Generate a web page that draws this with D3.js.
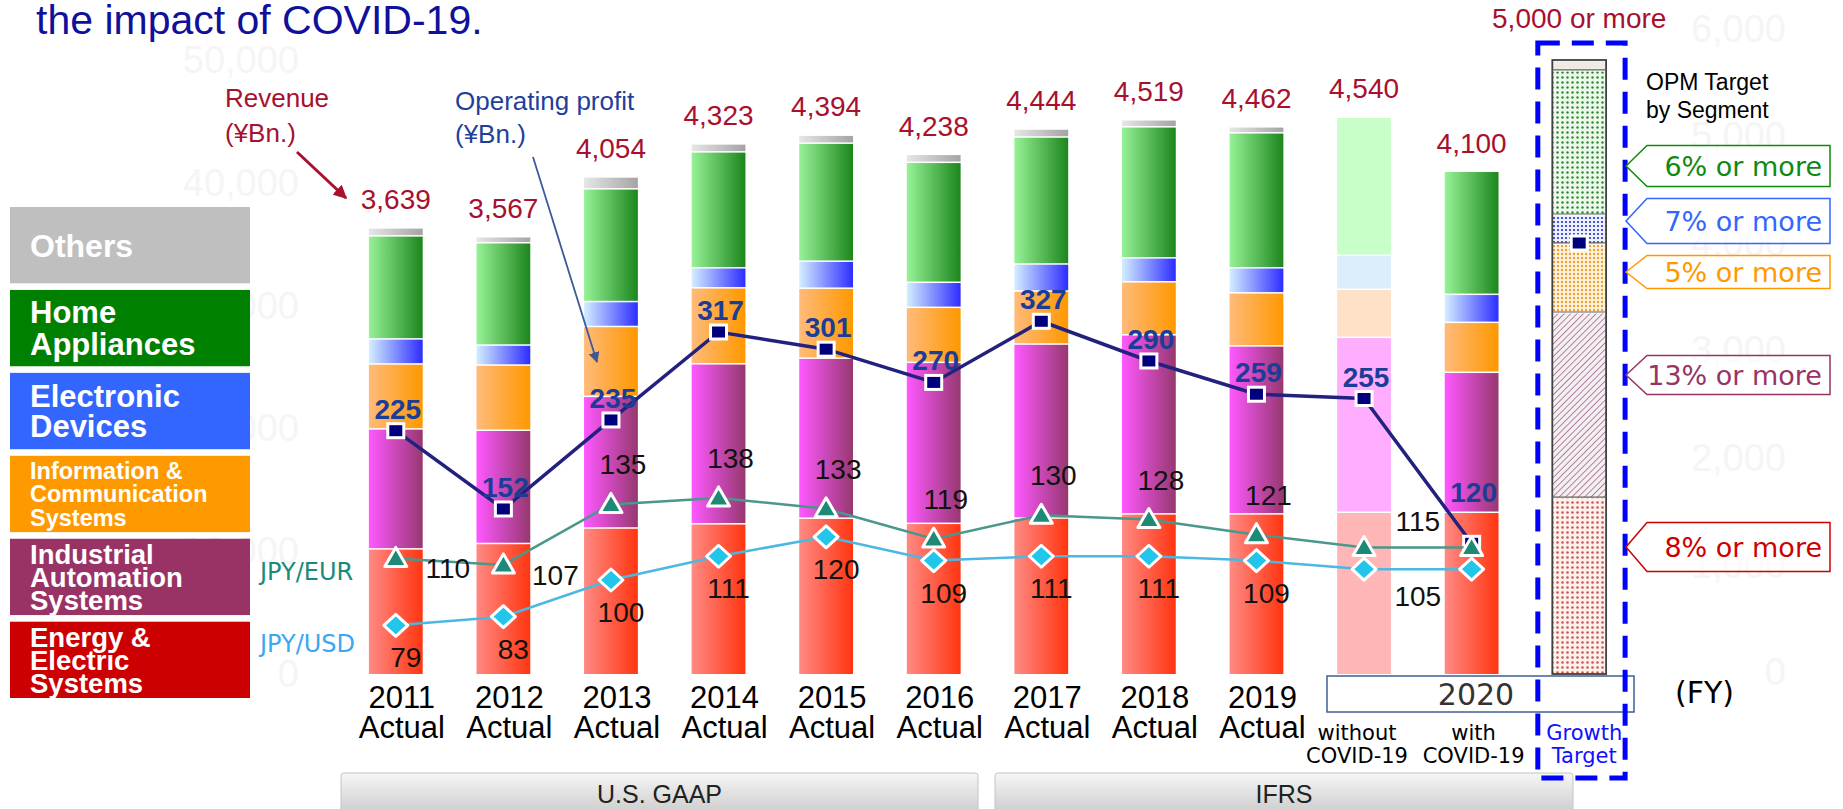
<!DOCTYPE html>
<html>
<head>
<meta charset="utf-8">
<script src="https://cdn.jsdelivr.net/npm/d3@7"></script>
<style>
body { margin: 0; background: #fff; }
svg { display: block; }
</style>
</head>
<body>
<script>
// fiscal years (2020 split in two, plus the growth target column)
var categories = ["2011", "2012", "2013", "2014", "2015", "2016", "2017", "2018", "2019", "2020a", "2020b", "Growth"];
var yearLabels = ["2011", "2012", "2013", "2014", "2015", "2016", "2017", "2018", "2019"];

// revenue by segment (¥Bn.)
var energy     = [1025, 1069, 1195, 1229, 1275, 1233, 1276, 1310, 1310, 1323, 1323, 1441];
var industrial = [977, 922, 1072, 1303, 1303, 1311, 1417, 1458, 1368, 1425, 1140, 1507];
var infoComm   = [529, 531, 569, 619, 570, 448, 432, 432, 432, 391, 407, 562];
var devices    = [204, 163, 203, 163, 220, 204, 220, 195, 204, 277, 228, 236];
var appliances = [839, 833, 918, 944, 961, 977, 1034, 1067, 1099, 1124, 1002, 1173];
var others     = [65, 49, 97, 65, 65, 65, 65, 57, 49, 0, 0, 81];
var revenue    = [3639, 3567, 4054, 4323, 4394, 4238, 4444, 4519, 4462, 4540, 4100, 5000];

// operating profit (¥Bn.) and exchange rates
var opProfit = [225, 152, 235, 317, 301, 270, 327, 290, 259, 255, 120];
var opTarget = 400;
var jpyEur = [110, 107, 135, 138, 133, 119, 130, 128, 121, 115, 115];
var jpyUsd = [79, 83, 100, 111, 120, 109, 111, 111, 109, 105, 105];

// segment legend and OPM targets
var segmentNames = [["Others"], ["Home", "Appliances"], ["Electronic", "Devices"],
  ["Information &", "Communication", "Systems"], ["Industrial", "Automation", "Systems"],
  ["Energy &", "Electric", "Systems"]];
var opmTargets = ["6% or more", "7% or more", "5% or more", "13% or more", "8% or more"];
var ghostLeft = [0, 10000, 20000, 30000, 40000, 50000];
var ghostRight = [0, 1000, 2000, 3000, 4000, 5000, 6000];

var width = 1843, height = 809;
var sans = "Arial, 'Liberation Sans', sans-serif";
var dejavu = "'DejaVu Sans', Verdana, sans-serif";

var svg = d3.select("body").append("svg").attr("width", width).attr("height", height);
var defs = svg.append("defs");

var x = d3.scaleBand().domain(categories).range([342, 1633]).paddingInner(0.5).paddingOuter(0.25);
var y = d3.scaleLinear().domain([0, 5000]).range([674, 60]);
var yOp = d3.scaleLinear().domain([0, 400]).range([672, 243]);
var yFx = d3.scaleLinear().domain([0, 150]).range([796, 472]);
var bw = x.bandwidth();
function cx(i) { return x(categories[i]) + bw / 2; }

var keys = ["energy", "industrial", "info", "devices", "home", "others"];
var gradStops = {
  energy: ["#ff8a84", "#ff3510"],
  industrial: ["#ff58ff", "#963870"],
  info: ["#ffbb7a", "#ff9800"],
  devices: ["#d4eeff", "#2d2dff"],
  home: ["#97f297", "#1c861c"],
  others: ["#e6e6e6", "#a4a4a4"]
};
var faded = { energy: "#ffb6b6", industrial: "#ffaeff", info: "#ffe1c8", devices: "#dcedfb", home: "#c8ffc8", others: "#eeeeee" };
var legendColors = ["#bfbfbf", "#008000", "#3366ff", "#ff9900", "#993366", "#cc0000"];
var calloutColors = ["#0f8a0f", "#3366ff", "#ff9900", "#993366", "#cc0000"];

keys.forEach(function(k) {
  var g = defs.append("linearGradient").attr("id", "g-" + k).attr("x1", 0).attr("x2", 1).attr("y1", 0).attr("y2", 0);
  g.append("stop").attr("offset", 0).attr("stop-color", gradStops[k][0]);
  g.append("stop").attr("offset", 1).attr("stop-color", gradStops[k][1]);
});
var gaap = defs.append("linearGradient").attr("id", "gaap").attr("x1", 0).attr("x2", 0).attr("y1", 0).attr("y2", 1);
gaap.append("stop").attr("offset", 0).attr("stop-color", "#f6f6f6");
gaap.append("stop").attr("offset", 1).attr("stop-color", "#cdcdcd");

// patterns for the growth target column
function dots(id, bg, c, s, r) {
  var p = defs.append("pattern").attr("id", id).attr("patternUnits", "userSpaceOnUse").attr("width", s).attr("height", s);
  p.append("rect").attr("width", s).attr("height", s).attr("fill", bg);
  p.append("circle").attr("cx", s / 2).attr("cy", s / 2).attr("r", r).attr("fill", c);
}
dots("p-energy", "#fff0ec", "#c85a55", 5, 1.3);
dots("p-info", "#fff4dc", "#eea038", 4, 1.2);
dots("p-devices", "#eef0ff", "#2233cc", 4, 1.1);
dots("p-home", "#edf8ed", "#2f8a2f", 5, 1.2);
dots("p-others", "#efece6", "#dedad2", 4, 0.6);
var hatch = defs.append("pattern").attr("id", "p-industrial").attr("patternUnits", "userSpaceOnUse")
  .attr("width", 4.5).attr("height", 4.5).attr("patternTransform", "rotate(45)");
hatch.append("rect").attr("width", 4.5).attr("height", 4.5).attr("fill", "#f5eef3");
hatch.append("line").attr("x1", 0).attr("y1", 0).attr("x2", 0).attr("y2", 4.5).attr("stroke", "#7e4466").attr("stroke-width", 1.2);

["redArrow", "blueArrow"].forEach(function(id, i) {
  defs.append("marker").attr("id", id).attr("viewBox", "0 0 10 10").attr("refX", 9).attr("refY", 5)
    .attr("markerWidth", i ? 6 : 4.5).attr("markerHeight", i ? 6 : 4.5).attr("orient", "auto")
    .append("path").attr("d", "M0,0 L10,5 L0,10 z").attr("fill", i ? "#3c5a9a" : "#a8102e");
});

// faint ghost axes left behind on the slide
svg.append("g").selectAll("text").data(ghostLeft).enter().append("text")
  .attr("x", 299).attr("y", function(d) { return y(d / 10) + 13; }).attr("text-anchor", "end")
  .attr("font-family", sans).attr("font-size", 38).attr("fill", "#f5f5f5").text(d3.format(","));
svg.append("g").selectAll("text").data(ghostRight).enter().append("text")
  .attr("x", 1786).attr("y", function(d) { return yOp(d / 10) + 13; }).attr("text-anchor", "end")
  .attr("font-family", sans).attr("font-size", 38).attr("fill", "#f5f5f5").text(d3.format(","));

// title (cut off at top of slide)
svg.append("text").attr("x", 36).attr("y", 34).attr("font-family", sans).attr("font-size", 41)
  .attr("fill", "#10109a").text("the impact of COVID-19.");

// stacked bars
var rows = categories.map(function(c, i) {
  return { cat: c, energy: energy[i], industrial: industrial[i], info: infoComm[i], devices: devices[i], home: appliances[i], others: others[i] };
});
var stacked = d3.stack().keys(keys)(rows);
var gap = 1.5;
var barG = svg.append("g");
stacked.forEach(function(layer) {
  barG.selectAll(null).data(layer.filter(function(d) { return d[1] > d[0]; })).enter().append("rect")
    .attr("x", function(d) { return x(d.data.cat); })
    .attr("y", function(d) { return y(d[1]) + gap; })
    .attr("width", bw)
    .attr("height", function(d) { return Math.max(0, y(d[0]) - y(d[1]) - gap); })
    .attr("fill", function(d) {
      if (d.data.cat === "2020a") return faded[layer.key];
      if (d.data.cat === "Growth") return "url(#p-" + layer.key + ")";
      return "url(#g-" + layer.key + ")";
    });
});
// growth target outline and segment dividers
var gi = categories.length - 1;
barG.append("rect").attr("x", x("Growth")).attr("y", y(revenue[gi])).attr("width", bw)
  .attr("height", y(0) - y(revenue[gi])).attr("fill", "none").attr("stroke", "#404040").attr("stroke-width", 1.8);
barG.selectAll(".div").data(stacked.slice(0, 5)).enter().append("line")
  .attr("x1", x("Growth")).attr("x2", x("Growth") + bw)
  .attr("y1", function(l) { return y(l[gi][1]); }).attr("y2", function(l) { return y(l[gi][1]); })
  .attr("stroke", "#606060").attr("stroke-width", 1.2);

// revenue labels
svg.append("g").selectAll("text").data(revenue).enter().append("text")
  .attr("x", function(d, i) { return cx(i); })
  .attr("y", function(d, i) { return y(d) - (i === gi ? 32 : 18); })
  .attr("text-anchor", "middle").attr("font-family", sans).attr("font-size", 28).attr("fill", "#a8102e")
  .text(function(d, i) { return d3.format(",")(d) + (i === gi ? " or more" : ""); });

// operating profit line
var lineG = svg.append("g");
lineG.append("path").datum(opProfit)
  .attr("d", d3.line().x(function(d, i) { return cx(i); }).y(function(d) { return yOp(d); }))
  .attr("fill", "none").attr("stroke", "#22227e").attr("stroke-width", 3.5);
lineG.selectAll(".op").data(opProfit.concat([opTarget])).enter().append("rect")
  .attr("x", function(d, i) { return cx(i) - 8; }).attr("y", function(d) { return yOp(d) - 7; })
  .attr("width", 16).attr("height", 14).attr("fill", "#00007c").attr("stroke", "#fff").attr("stroke-width", 3);

// exchange-rate lines
function fxLine(vals, color, lw) {
  lineG.append("path").datum(vals)
    .attr("d", d3.line().x(function(d, i) { return cx(i); }).y(function(d) { return yFx(d); }))
    .attr("fill", "none").attr("stroke", color).attr("stroke-width", lw);
}
fxLine(jpyEur, "#4a978b", 2.5);
fxLine(jpyUsd, "#4bb8e2", 2.5);
lineG.selectAll(".eur").data(jpyEur).enter().append("path")
  .attr("transform", function(d, i) { return "translate(" + cx(i) + "," + yFx(d) + ")"; })
  .attr("d", "M0,-11 L11,8 L-11,8 Z").attr("fill", "#1d8a78").attr("stroke", "#fff").attr("stroke-width", 3).attr("stroke-linejoin", "round");
lineG.selectAll(".usd").data(jpyUsd).enter().append("path")
  .attr("transform", function(d, i) { return "translate(" + cx(i) + "," + yFx(d) + ")"; })
  .attr("d", "M0,-11 L12,0 L0,11 L-12,0 Z").attr("fill", "#22c6ea").attr("stroke", "#fff").attr("stroke-width", 3).attr("stroke-linejoin", "round");

// line labels
var labG = svg.append("g").attr("font-family", sans).attr("font-size", 28);
labG.selectAll(".opl").data(opProfit).enter().append("text")
  .attr("x", function(d, i) { return cx(i) + 2; })
  .attr("y", function(d, i) { return yOp(d) - (i === 10 ? 41 : 12); })
  .attr("text-anchor", "middle").attr("font-weight", "bold").attr("fill", "#1b3d98").text(function(d) { return d; });
var mid2020 = (cx(9) + cx(10)) / 2;
labG.selectAll(".eurl").data(jpyEur).enter().append("text")
  .filter(function(d, i) { return i !== 9; })
  .attr("x", function(d, i) { return i === 9 ? mid2020 : cx(i) + (i < 2 ? 52 : 12); })
  .attr("y", function(d, i) { return yFx(d) + (i < 2 ? 20 : (i === 9 ? -17 : -30)); })
  .attr("text-anchor", "middle").attr("fill", "#111").text(function(d) { return d; });
labG.selectAll(".usdl").data(jpyUsd).enter().append("text")
  .filter(function(d, i) { return i !== 9; })
  .attr("x", function(d, i) { return i === 9 ? mid2020 : cx(i) + 10; })
  .attr("y", function(d, i) { return yFx(d) + (i === 9 ? 37 : 42); })
  .attr("text-anchor", "middle").attr("fill", "#111").text(function(d) { return d; });

svg.append("text").attr("x", 260).attr("y", 580).attr("font-family", dejavu).attr("font-size", 24)
  .attr("fill", "#1a8a7a").text("JPY/EUR");
svg.append("text").attr("x", 260).attr("y", 652).attr("font-family", dejavu).attr("font-size", 24)
  .attr("fill", "#3aa8f0").text("JPY/USD");

// annotations
var ann = svg.append("g").attr("font-family", sans).attr("font-size", 26);
ann.append("text").attr("x", 225).attr("y", 107).attr("fill", "#a8102e").text("Revenue");
ann.append("text").attr("x", 225).attr("y", 142).attr("fill", "#a8102e").text("(¥Bn.)");
ann.append("line").attr("x1", 297).attr("y1", 152).attr("x2", 346).attr("y2", 198)
  .attr("stroke", "#a8102e").attr("stroke-width", 3).attr("marker-end", "url(#redArrow)");
ann.append("text").attr("x", 455).attr("y", 110).attr("fill", "#1f3f9a").text("Operating profit");
ann.append("text").attr("x", 455).attr("y", 143).attr("fill", "#1f3f9a").text("(¥Bn.)");
ann.append("line").attr("x1", 533).attr("y1", 157).attr("x2", 597).attr("y2", 362)
  .attr("stroke", "#3c5a9a").attr("stroke-width", 1.8).attr("marker-end", "url(#blueArrow)");

// legend boxes
var ly = d3.scaleBand().domain(d3.range(segmentNames.length)).range([207, 698]).paddingInner(0.08);
var legendFont = [32, 31, 31, 23.5, 27.5, 27.5];
var legendLead = [32, 32, 30, 23.5, 23, 23];
var leg = svg.append("g");
segmentNames.forEach(function(lines, i) {
  leg.append("rect").attr("x", 10).attr("y", ly(i)).attr("width", 240).attr("height", ly.bandwidth())
    .attr("fill", legendColors[i]);
  var c = ly(i) + ly.bandwidth() / 2;
  var first = c - (lines.length - 1) * legendLead[i] / 2 + 0.36 * legendFont[i];
  var t = leg.append("text").attr("font-family", sans).attr("font-weight", "bold")
    .attr("font-size", legendFont[i]).attr("fill", "#fff");
  lines.forEach(function(s, j) {
    t.append("tspan").attr("x", 30).attr("y", first + j * legendLead[i]).text(s);
  });
});

// x axis labels
var ax = svg.append("g").attr("font-family", sans).attr("font-size", 31).attr("fill", "#000").attr("text-anchor", "middle");
yearLabels.forEach(function(yl, i) {
  ax.append("text").attr("x", cx(i) + 6).attr("y", 708).text(yl);
  ax.append("text").attr("x", cx(i) + 6).attr("y", 738).text("Actual");
});
svg.append("rect").attr("x", 1327).attr("y", 676).attr("width", 307).attr("height", 36)
  .attr("fill", "#fff").attr("stroke", "#3d5f94").attr("stroke-width", 1.5);
svg.append("text").attr("x", 1476).attr("y", 705).attr("text-anchor", "middle").attr("font-family", dejavu)
  .attr("font-size", 30).attr("fill", "#333").text("2020");
var sub = svg.append("g").attr("font-family", dejavu).attr("font-size", 21).attr("text-anchor", "middle");
sub.append("text").attr("x", cx(9) - 7).attr("y", 740).text("without");
sub.append("text").attr("x", cx(9) - 7).attr("y", 763).text("COVID-19");
sub.append("text").attr("x", cx(10) + 2).attr("y", 740).text("with");
sub.append("text").attr("x", cx(10) + 2).attr("y", 763).text("COVID-19");
sub.append("text").attr("x", cx(gi) + 5).attr("y", 740).attr("fill", "#1010ff").text("Growth");
sub.append("text").attr("x", cx(gi) + 5).attr("y", 763).attr("fill", "#1010ff").text("Target");
svg.append("text").attr("x", 1675).attr("y", 703).attr("font-family", dejavu).attr("font-size", 30).text("(FY)");

// accounting standard bands
[["U.S. GAAP", 341, 978], ["IFRS", 995, 1573]].forEach(function(b) {
  svg.append("rect").attr("x", b[1]).attr("y", 773).attr("width", b[2] - b[1]).attr("height", 40).attr("rx", 3)
    .attr("fill", "url(#gaap)").attr("stroke", "#c4c4c4");
  svg.append("text").attr("x", (b[1] + b[2]) / 2).attr("y", 803).attr("text-anchor", "middle")
    .attr("font-family", sans).attr("font-size", 25).attr("fill", "#222").text(b[0]);
});

// dashed box around the growth target
svg.append("rect").attr("x", x("Growth") - 14.5).attr("y", 43).attr("width", bw + 33.5).attr("height", 735)
  .attr("fill", "none").attr("stroke", "#0000ff").attr("stroke-width", 5).attr("stroke-dasharray", "22,12");

// OPM target callouts
svg.append("text").attr("x", 1646).attr("y", 90).attr("font-family", sans).attr("font-size", 23).text("OPM Target");
svg.append("text").attr("x", 1646).attr("y", 118).attr("font-family", sans).attr("font-size", 23).text("by Segment");
var calloutY = [166, 221, 272, 375, 547];
var calloutH = [41, 45, 33, 39, 49];
var co = svg.append("g");
opmTargets.forEach(function(s, i) {
  var t = calloutY[i] - calloutH[i] / 2, b = calloutY[i] + calloutH[i] / 2;
  co.append("path").attr("d", "M1626," + calloutY[i] + " L1647," + t + " L1830," + t + " L1830," + b + " L1647," + b + " Z")
    .attr("fill", "#fff").attr("fill-opacity", 0.6).attr("stroke", calloutColors[i]).attr("stroke-width", 1.5);
  co.append("text").attr("x", 1822).attr("y", calloutY[i] + 10).attr("text-anchor", "end")
    .attr("font-family", dejavu).attr("font-size", 27).attr("fill", calloutColors[i]).text(s);
});
</script>
</body>
</html>
